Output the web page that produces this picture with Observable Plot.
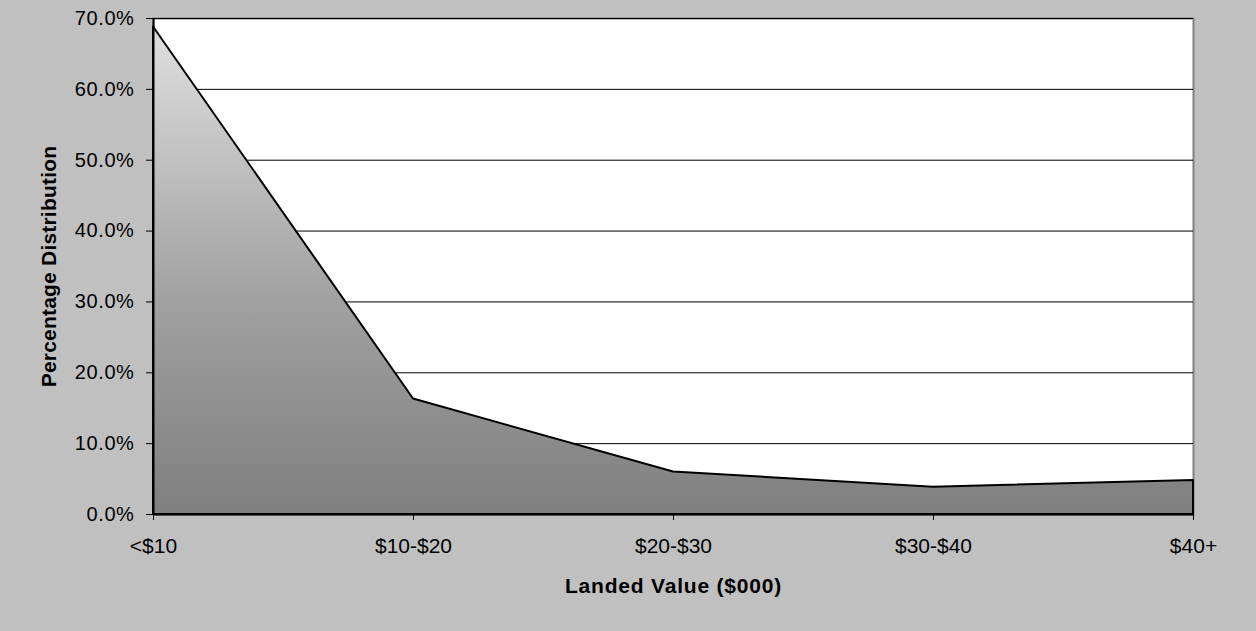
<!DOCTYPE html>
<html>
<head>
<meta charset="utf-8">
<script src="https://cdn.jsdelivr.net/npm/d3@7"></script>
<script src="https://cdn.jsdelivr.net/npm/@observablehq/plot@0.6"></script>
<style>
  html, body { margin: 0; padding: 0; background: #c0c0c0; }
  #chart svg { display: block; }
</style>
</head>
<body>
<div id="chart"></div>
<script>
const categories = ["<$10", "$10-$20", "$20-$30", "$30-$40", "$40+"];
const values = [68.8, 16.3, 6.0, 3.85, 4.8];
const yTicks = [0, 10, 20, 30, 40, 50, 60, 70];
const xTitle = "Landed Value ($000)";
const yTitle = "Percentage Distribution";

const data = categories.map((c, i) => ({cat: c, v: values[i]}));
const font = "Arial, 'Liberation Sans', sans-serif";

const chart = Plot.plot({
  width: 1256,
  height: 631,
  marginLeft: 153,
  marginRight: 63,
  marginTop: 18,
  marginBottom: 117,
  style: {background: "#c0c0c0", fontFamily: font, color: "#000"},
  x: {type: "point", domain: categories, padding: 0, label: null},
  y: {domain: [0, 70], label: null},
  marks: [
    Plot.frame({fill: "white", stroke: "#808080", strokeWidth: 2}),
    Plot.gridY(yTicks, {stroke: "#000", strokeOpacity: 1, strokeWidth: 1}),
    Plot.areaY(data, {x: "cat", y: "v", fill: "url(#areaGrad)", stroke: "#000", strokeWidth: 2}),
    Plot.ruleY([0], {stroke: "#000", strokeWidth: 2}),
    Plot.ruleX([categories[0]], {stroke: "#000", strokeWidth: 2}),
    Plot.axisY({ticks: yTicks, tickSize: 7, tickPadding: 12, fontSize: 20, label: null,
      tickFormat: d => d.toFixed(1) + "%"}),
    Plot.axisX({tickSize: 6, tickPadding: 18, fontSize: 21, label: null}),
    Plot.text([yTitle], {frameAnchor: "left", dx: -104, rotate: -90, fontSize: 21,
      fontWeight: "bold", textAnchor: "middle", lineAnchor: "middle"}),
    Plot.text([xTitle], {frameAnchor: "bottom", dy: 72, fontSize: 21,
      fontWeight: "bold", textAnchor: "middle", lineAnchor: "middle"})
  ]
});

// letter spacing tweaks to match the wider reference type
d3.select(chart).selectAll('[aria-label="y-axis tick label"] text').style("letter-spacing", "0.6px");
const textGroups = d3.select(chart).selectAll('g[aria-label="text"]');
textGroups.filter((d, i) => i === 0).selectAll("text").style("letter-spacing", "0.2px");
textGroups.filter((d, i) => i === 1).selectAll("text").style("letter-spacing", "0.8px");

const defs = d3.select(chart).insert("defs", ":first-child");
const g = defs.append("linearGradient").attr("id", "areaGrad")
  .attr("x1", 0).attr("y1", 0).attr("x2", 0).attr("y2", 1);
g.append("stop").attr("offset", "0%").attr("stop-color", "#dfdfdf");
g.append("stop").attr("offset", "55%").attr("stop-color", "#a2a2a2");
g.append("stop").attr("offset", "100%").attr("stop-color", "#7f7f7f");

document.getElementById("chart").appendChild(chart);
</script>
</body>
</html>
